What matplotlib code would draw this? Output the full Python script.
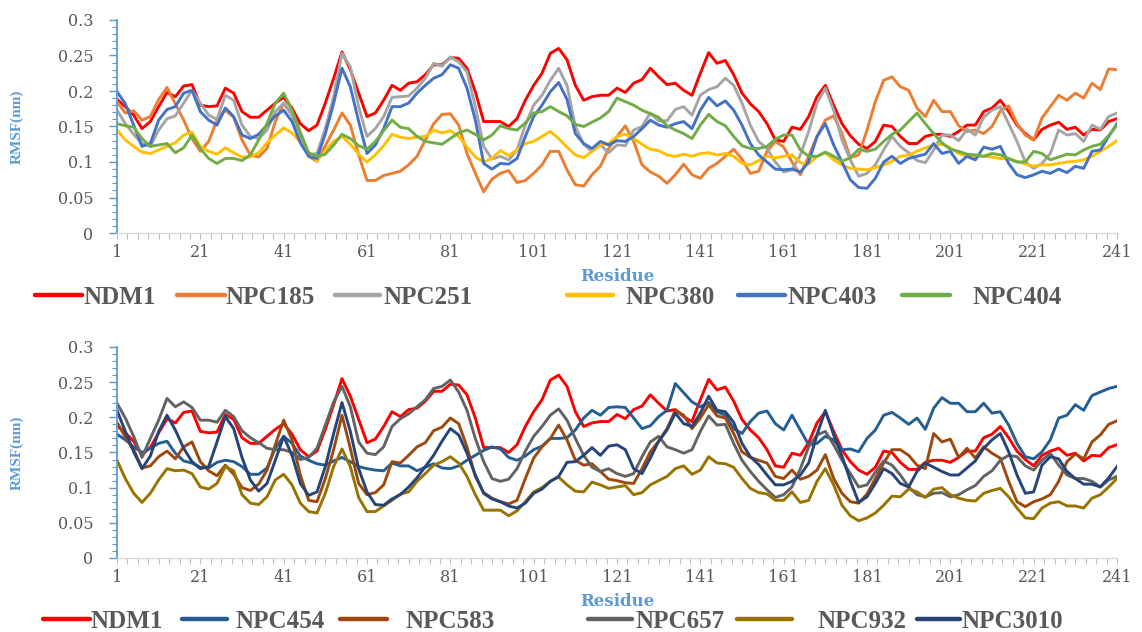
import matplotlib.pyplot as plt
from matplotlib.lines import Line2D
from matplotlib.ticker import MultipleLocator, FixedLocator, FuncFormatter
import numpy as np

# residue numbers (every second residue)
residue = list(range(1, 242, 2))

ndm1 = [
    0.188, 0.178, 0.166, 0.147, 0.157, 0.178, 0.198, 0.192, 0.207, 0.209,
    0.180, 0.178, 0.179, 0.204, 0.197, 0.171, 0.163, 0.163, 0.173, 0.183,
    0.191, 0.176, 0.154, 0.144, 0.152, 0.183, 0.218, 0.255, 0.230, 0.197,
    0.164, 0.169, 0.187, 0.208, 0.201, 0.211, 0.213, 0.223, 0.237, 0.237,
    0.247, 0.246, 0.232, 0.199, 0.157, 0.157, 0.157, 0.150, 0.161, 0.187,
    0.208, 0.225, 0.253, 0.260, 0.244, 0.208, 0.187, 0.192, 0.194, 0.194,
    0.204, 0.198, 0.211, 0.216, 0.232, 0.220, 0.209, 0.211, 0.201, 0.194,
    0.225, 0.254, 0.239, 0.243, 0.223, 0.197, 0.182, 0.171, 0.154, 0.131,
    0.129, 0.149, 0.146, 0.164, 0.192, 0.208, 0.180, 0.154, 0.137, 0.125,
    0.119, 0.129, 0.152, 0.150, 0.136, 0.126, 0.126, 0.136, 0.139, 0.139,
    0.136, 0.143, 0.152, 0.152, 0.171, 0.176, 0.187, 0.171, 0.152, 0.140,
    0.131, 0.146, 0.152, 0.156, 0.146, 0.149, 0.138, 0.146, 0.145, 0.157,
    0.161]

npc185 = [
    0.185, 0.169, 0.172, 0.159, 0.164, 0.188, 0.205, 0.182, 0.159, 0.133,
    0.115, 0.129, 0.159, 0.173, 0.163, 0.131, 0.110, 0.107, 0.119, 0.157,
    0.183, 0.166, 0.138, 0.108, 0.101, 0.123, 0.145, 0.169, 0.152, 0.110,
    0.074, 0.074, 0.081, 0.084, 0.087, 0.096, 0.108, 0.131, 0.154, 0.167,
    0.168, 0.152, 0.112, 0.084, 0.058, 0.076, 0.084, 0.088, 0.071, 0.074,
    0.084, 0.096, 0.115, 0.115, 0.089, 0.068, 0.066, 0.082, 0.094, 0.119,
    0.136, 0.151, 0.129, 0.096, 0.086, 0.080, 0.070, 0.082, 0.097, 0.082,
    0.077, 0.091, 0.098, 0.108, 0.118, 0.104, 0.084, 0.087, 0.115, 0.129,
    0.121, 0.100, 0.082, 0.108, 0.136, 0.159, 0.165, 0.140, 0.106, 0.110,
    0.145, 0.185, 0.215, 0.220, 0.206, 0.201, 0.176, 0.164, 0.187, 0.171,
    0.171, 0.151, 0.143, 0.145, 0.140, 0.150, 0.172, 0.179, 0.154, 0.138,
    0.131, 0.162, 0.178, 0.194, 0.187, 0.197, 0.190, 0.211, 0.202, 0.231,
    0.230]

npc251 = [
    0.173, 0.154, 0.139, 0.126, 0.122, 0.145, 0.161, 0.165, 0.183, 0.201,
    0.183, 0.166, 0.160, 0.194, 0.187, 0.152, 0.136, 0.133, 0.145, 0.171,
    0.183, 0.166, 0.136, 0.110, 0.112, 0.147, 0.192, 0.253, 0.234, 0.178,
    0.136, 0.147, 0.164, 0.191, 0.192, 0.193, 0.204, 0.218, 0.239, 0.235,
    0.248, 0.241, 0.227, 0.178, 0.122, 0.104, 0.108, 0.103, 0.117, 0.152,
    0.180, 0.194, 0.215, 0.232, 0.208, 0.150, 0.125, 0.115, 0.124, 0.113,
    0.124, 0.123, 0.145, 0.150, 0.169, 0.158, 0.158, 0.174, 0.178, 0.166,
    0.194, 0.202, 0.206, 0.218, 0.208, 0.183, 0.152, 0.129, 0.119, 0.100,
    0.086, 0.089, 0.110, 0.143, 0.183, 0.204, 0.173, 0.131, 0.103, 0.080,
    0.084, 0.096, 0.117, 0.136, 0.122, 0.113, 0.102, 0.099, 0.117, 0.138,
    0.138, 0.130, 0.146, 0.138, 0.163, 0.173, 0.178, 0.154, 0.129, 0.100,
    0.091, 0.098, 0.112, 0.145, 0.138, 0.140, 0.129, 0.152, 0.146, 0.164,
    0.169]

npc380 = [
    0.145, 0.131, 0.122, 0.114, 0.112, 0.117, 0.122, 0.127, 0.138, 0.142,
    0.122, 0.115, 0.111, 0.120, 0.113, 0.107, 0.107, 0.113, 0.127, 0.138,
    0.148, 0.141, 0.128, 0.113, 0.102, 0.116, 0.129, 0.136, 0.125, 0.111,
    0.100, 0.110, 0.123, 0.139, 0.135, 0.133, 0.135, 0.136, 0.145, 0.141,
    0.144, 0.136, 0.121, 0.107, 0.100, 0.105, 0.116, 0.109, 0.117, 0.126,
    0.129, 0.136, 0.143, 0.133, 0.121, 0.110, 0.106, 0.115, 0.124, 0.126,
    0.136, 0.139, 0.133, 0.125, 0.118, 0.116, 0.110, 0.108, 0.111, 0.108,
    0.112, 0.113, 0.110, 0.112, 0.108, 0.098, 0.096, 0.102, 0.108, 0.106,
    0.108, 0.110, 0.099, 0.097, 0.108, 0.113, 0.103, 0.096, 0.091, 0.090,
    0.089, 0.092, 0.096, 0.101, 0.108, 0.110, 0.115, 0.120, 0.124, 0.125,
    0.120, 0.112, 0.108, 0.108, 0.108, 0.107, 0.105, 0.104, 0.101, 0.097,
    0.094, 0.096, 0.096, 0.098, 0.100, 0.101, 0.103, 0.108, 0.115, 0.122,
    0.130]

npc403 = [
    0.199, 0.182, 0.152, 0.122, 0.126, 0.159, 0.174, 0.178, 0.197, 0.201,
    0.171, 0.159, 0.152, 0.176, 0.164, 0.138, 0.133, 0.139, 0.152, 0.165,
    0.173, 0.157, 0.127, 0.108, 0.105, 0.140, 0.183, 0.232, 0.206, 0.157,
    0.112, 0.124, 0.147, 0.178, 0.178, 0.183, 0.197, 0.208, 0.218, 0.223,
    0.237, 0.232, 0.204, 0.159, 0.098, 0.090, 0.098, 0.097, 0.105, 0.136,
    0.164, 0.180, 0.199, 0.212, 0.188, 0.140, 0.126, 0.119, 0.129, 0.124,
    0.130, 0.129, 0.136, 0.147, 0.159, 0.152, 0.149, 0.154, 0.157, 0.147,
    0.173, 0.191, 0.179, 0.186, 0.173, 0.152, 0.126, 0.110, 0.100, 0.090,
    0.089, 0.090, 0.086, 0.100, 0.136, 0.154, 0.124, 0.100, 0.075, 0.064,
    0.063, 0.077, 0.100, 0.108, 0.098, 0.105, 0.108, 0.111, 0.126, 0.112,
    0.115, 0.098, 0.108, 0.103, 0.121, 0.118, 0.122, 0.098, 0.082, 0.078,
    0.082, 0.087, 0.084, 0.090, 0.085, 0.094, 0.091, 0.115, 0.117, 0.136,
    0.154]

npc404 = [
    0.154, 0.151, 0.149, 0.133, 0.122, 0.124, 0.126, 0.113, 0.120, 0.138,
    0.119, 0.105, 0.098, 0.105, 0.105, 0.102, 0.110, 0.131, 0.154, 0.183,
    0.197, 0.173, 0.142, 0.113, 0.108, 0.111, 0.124, 0.139, 0.133, 0.123,
    0.118, 0.129, 0.144, 0.159, 0.149, 0.147, 0.136, 0.129, 0.127, 0.125,
    0.133, 0.141, 0.145, 0.139, 0.131, 0.138, 0.151, 0.147, 0.145, 0.155,
    0.169, 0.171, 0.178, 0.171, 0.165, 0.153, 0.150, 0.156, 0.162, 0.171,
    0.190, 0.185, 0.180, 0.173, 0.168, 0.163, 0.151, 0.145, 0.140, 0.133,
    0.152, 0.167, 0.157, 0.151, 0.136, 0.123, 0.119, 0.119, 0.122, 0.132,
    0.138, 0.138, 0.117, 0.108, 0.108, 0.114, 0.108, 0.101, 0.106, 0.118,
    0.115, 0.118, 0.129, 0.139, 0.145, 0.157, 0.169, 0.154, 0.140, 0.127,
    0.118, 0.115, 0.111, 0.110, 0.108, 0.112, 0.110, 0.105, 0.100, 0.100,
    0.115, 0.112, 0.103, 0.107, 0.111, 0.110, 0.117, 0.122, 0.125, 0.137,
    0.152]

npc454 = [
    0.176, 0.168, 0.158, 0.150, 0.156, 0.163, 0.166, 0.149, 0.138, 0.135,
    0.129, 0.128, 0.136, 0.139, 0.137, 0.130, 0.119, 0.119, 0.128, 0.156,
    0.173, 0.163, 0.145, 0.139, 0.134, 0.132, 0.138, 0.143, 0.137, 0.130,
    0.127, 0.125, 0.124, 0.135, 0.131, 0.131, 0.124, 0.129, 0.134, 0.128,
    0.127, 0.131, 0.139, 0.146, 0.153, 0.158, 0.155, 0.143, 0.139, 0.145,
    0.154, 0.159, 0.170, 0.170, 0.171, 0.182, 0.199, 0.210, 0.203, 0.214,
    0.215, 0.214, 0.199, 0.184, 0.188, 0.201, 0.210, 0.248, 0.235, 0.222,
    0.215, 0.221, 0.208, 0.203, 0.184, 0.177, 0.194, 0.206, 0.209, 0.191,
    0.182, 0.203, 0.182, 0.161, 0.163, 0.173, 0.168, 0.154, 0.155, 0.151,
    0.170, 0.182, 0.203, 0.207, 0.199, 0.190, 0.199, 0.183, 0.213, 0.228,
    0.220, 0.220, 0.208, 0.208, 0.220, 0.206, 0.208, 0.189, 0.163, 0.144,
    0.141, 0.151, 0.168, 0.199, 0.203, 0.218, 0.210, 0.231, 0.236, 0.241,
    0.244]

npc583 = [
    0.193, 0.172, 0.154, 0.128, 0.131, 0.144, 0.152, 0.141, 0.158, 0.165,
    0.137, 0.124, 0.117, 0.132, 0.119, 0.100, 0.096, 0.105, 0.125, 0.161,
    0.196, 0.168, 0.118, 0.082, 0.080, 0.113, 0.154, 0.203, 0.156, 0.106,
    0.090, 0.093, 0.104, 0.137, 0.135, 0.146, 0.158, 0.164, 0.181, 0.186,
    0.199, 0.191, 0.158, 0.116, 0.093, 0.085, 0.080, 0.077, 0.082, 0.113,
    0.142, 0.158, 0.170, 0.189, 0.168, 0.139, 0.132, 0.134, 0.123, 0.112,
    0.110, 0.107, 0.106, 0.127, 0.151, 0.166, 0.184, 0.210, 0.203, 0.184,
    0.199, 0.218, 0.202, 0.199, 0.177, 0.151, 0.143, 0.139, 0.135, 0.116,
    0.113, 0.125, 0.112, 0.116, 0.125, 0.147, 0.113, 0.092, 0.080, 0.078,
    0.091, 0.113, 0.135, 0.154, 0.154, 0.146, 0.132, 0.127, 0.177, 0.165,
    0.169, 0.143, 0.156, 0.142, 0.158, 0.149, 0.142, 0.109, 0.080, 0.073,
    0.080, 0.084, 0.090, 0.109, 0.137, 0.148, 0.141, 0.165, 0.175, 0.190,
    0.195]

npc657 = [
    0.220, 0.199, 0.173, 0.143, 0.170, 0.196, 0.227, 0.215, 0.222, 0.214,
    0.196, 0.196, 0.193, 0.210, 0.201, 0.181, 0.171, 0.164, 0.156, 0.154,
    0.154, 0.150, 0.140, 0.143, 0.156, 0.189, 0.222, 0.244, 0.215, 0.165,
    0.149, 0.147, 0.158, 0.187, 0.198, 0.205, 0.215, 0.225, 0.241, 0.244,
    0.253, 0.236, 0.210, 0.170, 0.137, 0.113, 0.109, 0.112, 0.127, 0.152,
    0.173, 0.187, 0.203, 0.212, 0.196, 0.170, 0.146, 0.129, 0.123, 0.127,
    0.120, 0.116, 0.120, 0.144, 0.165, 0.173, 0.158, 0.154, 0.149, 0.154,
    0.180, 0.202, 0.189, 0.190, 0.163, 0.139, 0.123, 0.109, 0.097, 0.086,
    0.090, 0.101, 0.127, 0.158, 0.175, 0.180, 0.161, 0.139, 0.120, 0.101,
    0.104, 0.122, 0.138, 0.132, 0.118, 0.101, 0.090, 0.087, 0.092, 0.093,
    0.087, 0.090, 0.097, 0.103, 0.116, 0.124, 0.139, 0.146, 0.144, 0.131,
    0.125, 0.139, 0.149, 0.132, 0.118, 0.113, 0.113, 0.109, 0.101, 0.111,
    0.116]

npc932 = [
    0.139, 0.113, 0.092, 0.079, 0.092, 0.111, 0.127, 0.124, 0.125, 0.120,
    0.101, 0.098, 0.106, 0.130, 0.124, 0.090, 0.078, 0.076, 0.087, 0.111,
    0.119, 0.104, 0.078, 0.066, 0.064, 0.092, 0.130, 0.155, 0.130, 0.086,
    0.066, 0.066, 0.074, 0.082, 0.091, 0.094, 0.109, 0.120, 0.132, 0.137,
    0.144, 0.135, 0.116, 0.090, 0.068, 0.068, 0.068, 0.060, 0.067, 0.080,
    0.094, 0.100, 0.109, 0.115, 0.104, 0.095, 0.094, 0.108, 0.104, 0.099,
    0.101, 0.103, 0.090, 0.093, 0.104, 0.110, 0.116, 0.127, 0.131, 0.119,
    0.125, 0.144, 0.135, 0.134, 0.129, 0.113, 0.099, 0.093, 0.091, 0.082,
    0.082, 0.094, 0.079, 0.082, 0.109, 0.127, 0.104, 0.075, 0.060, 0.053,
    0.057, 0.064, 0.075, 0.088, 0.087, 0.098, 0.094, 0.086, 0.098, 0.100,
    0.090, 0.085, 0.082, 0.081, 0.092, 0.096, 0.099, 0.087, 0.071, 0.057,
    0.056, 0.071, 0.078, 0.080, 0.074, 0.074, 0.071, 0.085, 0.090, 0.101,
    0.113]

npc3010 = [
    0.210, 0.180, 0.151, 0.127, 0.145, 0.180, 0.203, 0.182, 0.156, 0.137,
    0.127, 0.130, 0.165, 0.201, 0.184, 0.143, 0.111, 0.095, 0.106, 0.139,
    0.173, 0.146, 0.106, 0.089, 0.094, 0.130, 0.177, 0.221, 0.180, 0.127,
    0.094, 0.076, 0.075, 0.084, 0.090, 0.101, 0.114, 0.130, 0.146, 0.166,
    0.184, 0.175, 0.149, 0.118, 0.092, 0.084, 0.080, 0.074, 0.071, 0.078,
    0.092, 0.098, 0.109, 0.116, 0.136, 0.137, 0.146, 0.157, 0.146, 0.159,
    0.161, 0.154, 0.127, 0.120, 0.142, 0.166, 0.182, 0.206, 0.191, 0.187,
    0.206, 0.230, 0.210, 0.208, 0.193, 0.163, 0.144, 0.133, 0.118, 0.104,
    0.104, 0.109, 0.118, 0.135, 0.175, 0.210, 0.175, 0.145, 0.110, 0.079,
    0.087, 0.106, 0.127, 0.120, 0.106, 0.101, 0.123, 0.135, 0.129, 0.123,
    0.118, 0.118, 0.128, 0.138, 0.156, 0.168, 0.177, 0.151, 0.118, 0.092,
    0.094, 0.132, 0.144, 0.141, 0.123, 0.113, 0.105, 0.105, 0.101, 0.114,
    0.130]

top_names = ["NDM1", "NPC185", "NPC251", "NPC380", "NPC403", "NPC404"]
top_series = [ndm1, npc185, npc251, npc380, npc403, npc404]
top_colors = ["#FF0000", "#ED7D31", "#A5A5A5", "#FFC000", "#4472C4", "#70AD47"]

bottom_names = ["NDM1", "NPC454", "NPC583", "NPC657", "NPC932", "NPC3010"]
bottom_series = [ndm1, npc454, npc583, npc657, npc932, npc3010]
bottom_colors = ["#FF0000", "#255E91", "#9E480E", "#636363", "#997300", "#264478"]

AXIS_BLUE = "#5B9BD5"
TEXT_GRAY = "#595959"
W, H = 1142, 632

# legend entry layout in pixels: (line start, line length, gap to text)
top_legend = [(35, 47, 1), (177, 48, 1), (335, 45, 3), (567, 46, 12), (738, 47, 2), (902, 48, 22)]
bottom_legend = [(43, 47, 1), (182, 45, 8), (340, 47, 18), (588, 44, 3), (737, 55, 25), (917, 43, 2)]


def style_axes(ax, label_y):
    ax.set_xlim(1, 241)
    ax.set_ylim(0, 0.3)
    ax.spines["top"].set_visible(False)
    ax.spines["right"].set_visible(False)
    ax.spines["left"].set_color(AXIS_BLUE)
    ax.spines["left"].set_linewidth(1.3)
    ax.spines["bottom"].set_color("#D9D9D9")
    ax.spines["bottom"].set_linewidth(1.0)

    ax.xaxis.set_major_locator(FixedLocator(range(1, 242, 20)))
    ax.xaxis.set_minor_locator(FixedLocator(np.arange(1, 242, 2.5)))
    ax.yaxis.set_major_locator(MultipleLocator(0.05))
    ax.yaxis.set_minor_locator(MultipleLocator(0.01))
    ax.yaxis.set_major_formatter(FuncFormatter(lambda v, p: f"{v:g}"))

    ax.tick_params(axis="x", which="both", direction="out", color="#BFBFBF",
                   length=4, width=0.8, labelsize=11.5, labelcolor=TEXT_GRAY, pad=4)
    ax.tick_params(axis="y", which="major", direction="out", color=AXIS_BLUE,
                   length=6, width=1.0, labelsize=11.5, labelcolor=TEXT_GRAY, pad=11)
    ax.tick_params(axis="y", which="minor", direction="out", color=AXIS_BLUE,
                   length=3.5, width=0.8)
    for lbl in ax.get_xticklabels() + ax.get_yticklabels():
        lbl.set_fontfamily("DejaVu Serif")

    ax.set_ylabel("RMSF(nm)", color=AXIS_BLUE, fontsize=11, fontweight="bold",
                  fontfamily="Liberation Serif")
    ax.yaxis.set_label_coords(-0.093, 0.5)
    ax.set_xlabel("Residue", color=AXIS_BLUE, fontsize=12, fontweight="bold",
                  fontfamily="DejaVu Serif")
    ax.xaxis.set_label_coords(0.5, label_y)


def add_legend(fig, names, colors, layout, yc):
    for name, color, (x0, length, gap) in zip(names, colors, layout):
        handle = Line2D([], [], color=color, lw=3.2, solid_capstyle="round")
        fig.legend(handles=[handle], labels=[name], loc="center left",
                   bbox_to_anchor=(x0 / W, yc), frameon=False,
                   borderpad=0, borderaxespad=0,
                   handlelength=length / 25.0, handletextpad=gap / 25.0,
                   prop={"family": "Liberation Serif", "weight": "bold", "size": 18},
                   labelcolor=TEXT_GRAY)


fig = plt.figure(figsize=(W / 100, H / 100), dpi=100)
ax_top = fig.add_axes([117 / W, 1 - 233 / H, 1000 / W, 213 / H])
ax_bot = fig.add_axes([117 / W, 1 - 558 / H, 1000 / W, 211 / H])

for vals, color in zip(top_series, top_colors):
    ax_top.plot(residue, vals, color=color, lw=2.1)
for vals, color in zip(bottom_series, bottom_colors):
    ax_bot.plot(residue, vals, color=color, lw=2.1)

style_axes(ax_top, -0.164)
style_axes(ax_bot, -0.166)

add_legend(fig, top_names, top_colors, top_legend, 1 - 297 / H)
add_legend(fig, bottom_names, bottom_colors, bottom_legend, 1 - 621 / H)

fig.savefig("out.png", dpi=100)
